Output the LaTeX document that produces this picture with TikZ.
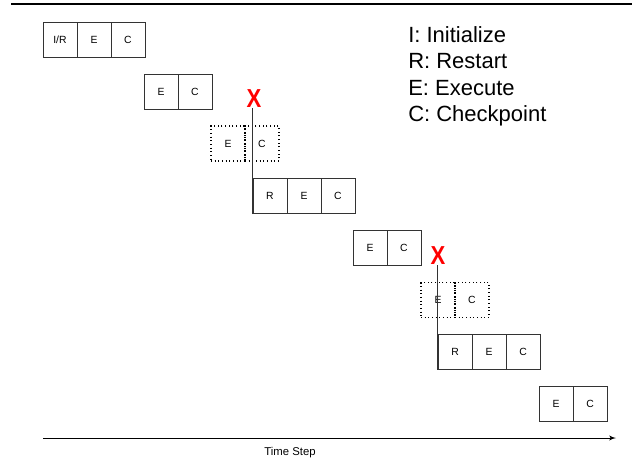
\documentclass[tikz,border=0pt]{standalone}
\usepackage{fontspec}
\setmainfont{Liberation Sans}
\usetikzlibrary{shapes,arrows}

\begin{document}
\begin{tikzpicture}[x=0.75pt, y=-0.75pt, node distance=25.5pt]
    \tikzstyle{cell} = [rectangle, draw=black!80, line width=0.75pt, minimum width=25.5pt, minimum height=26.25pt, inner sep=0pt, font=\fontsize{7.8}{9}\selectfont]
    \tikzstyle{lost} = [cell, draw=black, dotted, line width=1.2pt]
    \tikzstyle{fail} = [text=red, inner sep=0pt, xscale=0.85, font=\fontsize{19.5}{22}\selectfont\bfseries]
    \tikzstyle{legend} = [anchor=base west, inner sep=0pt, font=\fontsize{16.5}{19}\selectfont]
    \tikzstyle{line} = [draw, black!80, line width=0.75pt]

    \useasboundingbox (0,0) rectangle (632,465);

    % rule across the top
    \coordinate (top0) at (11,4);
    \coordinate (top1) at (632,4);
    \draw [line width=1.3pt] (top0) -- (top1);

    % first run
    \node [cell] (ir) at (60,39.5) {I/R};
    \node [cell, right of=ir] (e1) {E};
    \node [cell, right of=e1] (c1) {C};

    \node [cell] (e2) at (161,91.5) {E};
    \node [cell, right of=e2] (c2) {C};

    % work lost at the first failure
    \node [lost] (e3) at (228,143.5) {E};
    \node [lost, right of=e3] (c3) {C};
    \node [fail] (x1) at (254,98.5) {X};

    \node [cell] (r4) at (270,196) {R};
    \node [cell, right of=r4] (e4) {E};
    \node [cell, right of=e4] (c4) {C};

    \node [cell] (e5) at (370,247.5) {E};
    \node [cell, right of=e5] (c5) {C};

    % work lost at the second failure
    \node [lost] (e6) at (438,300) {E};
    \node [lost, right of=e6] (c6) {C};
    \node [fail] (x2) at (438,255.5) {X};

    \node [cell] (r7) at (455,351.5) {R};
    \node [cell, right of=r7] (e7) {E};
    \node [cell, right of=e7] (c7) {C};

    \node [cell] (e8) at (556,403.5) {E};
    \node [cell, right of=e8] (c8) {C};

    % restart drops from the failure
    \path [line] (r4.south west) -- (r4.south west |- x1.south);
    \path [line] (r7.south west) -- (r7.south west |- x2.south);

    % legend
    \node [legend] (leg1) at (408,42) {I: Initialize};
    \node [legend] (leg2) at (408,68.5) {R: Restart};
    \node [legend] (leg3) at (408,95) {E: Execute};
    \node [legend] (leg4) at (408,121.5) {C: Checkpoint};

    % time axis
    \coordinate (t0) at (43,438);
    \coordinate (t1) at (616,438);
    \draw [-latex', line width=0.75pt] (t0) -- (t1);
    \node [font=\fontsize{8.5}{10}\selectfont] (time) at (290,453) {Time Step};
\end{tikzpicture}
\end{document}
